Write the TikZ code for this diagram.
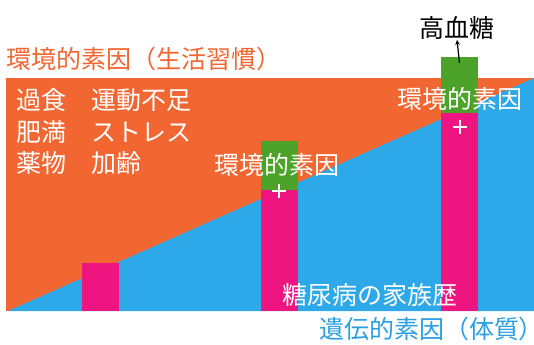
\documentclass[tikz,border=0pt]{standalone}
\usepackage{fontspec}
\setmainfont{Noto Sans CJK JP}
\usetikzlibrary{arrows.meta}
\definecolor{envorange}{HTML}{F26631}
\definecolor{genblue}{HTML}{2DA8E8}
\definecolor{barpink}{HTML}{EE1580}
\definecolor{bargreen}{HTML}{4DA32A}
\definecolor{bluetext}{HTML}{2D9FE0}
\tikzset{
  lbl/.style={inner sep=0pt, font=\fontsize{18.75}{22}\selectfont},
  wlbl/.style={lbl, text=white},
  plus/.style={inner sep=0pt, minimum size=11pt, draw=none,
    path picture={
      \draw[white, line width=1.1pt]
        (path picture bounding box.north) -- (path picture bounding box.south)
        (path picture bounding box.west) -- (path picture bounding box.east);
    }},
  pinkbar/.style={fill=barpink, draw=none},
  greenbar/.style={fill=bargreen, draw=none},
}
\begin{document}
\begin{tikzpicture}[x=0.75pt,y=-0.75pt]
\useasboundingbox (0,0) rectangle (534,344);
% background regions
\fill[envorange] (6,78) rectangle (534,311);
\fill[genblue] (8,311) -- (534,78) -- (534,311) -- cycle;
% bars
\node[pinkbar, minimum width=27.75pt, minimum height=36pt, inner sep=0pt] (p1) at (100.5,287) {};
\fill[barpink] (261,190) rectangle (298,311);
\fill[bargreen] (261,141) rectangle (298,190);
\fill[barpink] (441,113) rectangle (478,311);
\fill[bargreen] (441,57) rectangle (478,113);
\coordinate (g3top) at (459.5,63);
% plus signs
\node[plus] (plus2) at (279,191) {};
\node[plus] (plus3) at (460,127) {};
% labels
\node[lbl, text=envorange, anchor=west] (title) at (6,59) {環境的素因（生活習慣）};
\node[lbl, text=black] (hyper) at (457,28) {高血糖};
\draw[-{Stealth[length=4pt,width=3.5pt]}, line width=0.9pt] (g3top) -- (hyper.south);
\node[wlbl, anchor=west] (a1) at (16,100) {過食};
\node[wlbl, anchor=west] (a2) at (91,100) {運動不足};
\node[wlbl, anchor=west] (b1) at (16,132) {肥満};
\node[wlbl, anchor=west] (b2) at (91,132) {ストレス};
\node[wlbl, anchor=west] (c1) at (16,163) {薬物};
\node[wlbl, anchor=west] (c2) at (91,163) {加齢};
\node[wlbl] (env2) at (277,165) {環境的素因};
\node[wlbl] (env3) at (460,99) {環境的素因};
\node[wlbl] (fam) at (370,295) {糖尿病の家族歴};
\node[lbl, text=bluetext, anchor=west] (gen) at (319,329) {遺伝的素因（体質{\addfontfeatures{RawFeature=+palt}）}};
\end{tikzpicture}
\end{document}
